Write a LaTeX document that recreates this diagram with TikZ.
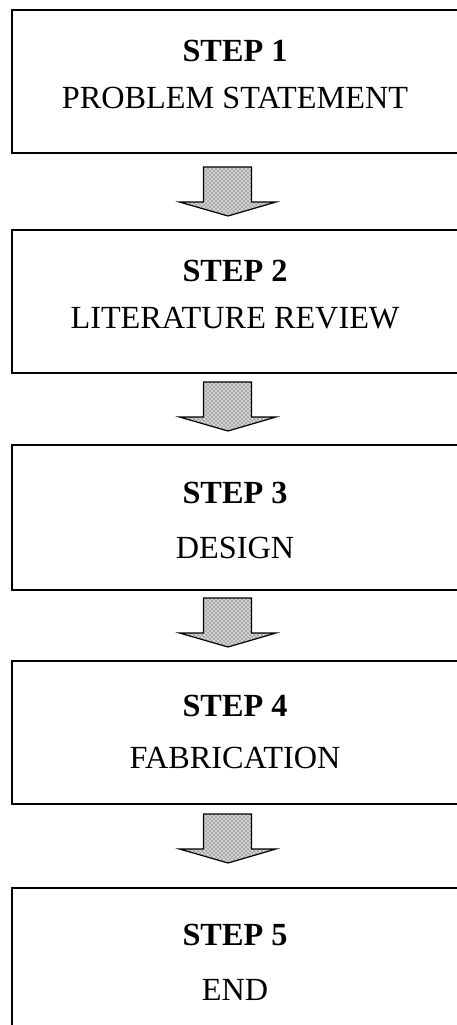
\documentclass[tikz,border=0pt]{standalone}
\usepackage{fontspec}
\setmainfont{Liberation Serif}
\usetikzlibrary{patterns}
\tikzset{
  stepbox/.style={draw=black, line width=1.4pt, fill=none},
  steptitle/.style={anchor=base, inner sep=0pt, font=\fontsize{24.2}{29}\selectfont\bfseries},
  steptext/.style={anchor=base, inner sep=0pt, font=\fontsize{24.2}{29}\selectfont},
  blockarrow/.style={draw=black, line width=0.9pt, line join=miter,
    preaction={fill=black!18}, pattern=crosshatch dots, pattern color=black!80}
}
\begin{document}
\begin{tikzpicture}[x=0.75pt, y=-0.75pt]
\useasboundingbox (0,0) rectangle (457,1025);
% boxes
\draw[stepbox] (12,10) rectangle (460,153);
\node[inner sep=0pt] (b1) at (236,81.5) {};
\draw[stepbox] (12,230) rectangle (460,373);
\node[inner sep=0pt] (b2) at (236,301.5) {};
\draw[stepbox] (12,445) rectangle (460,590);
\node[inner sep=0pt] (b3) at (236,517.5) {};
\draw[stepbox] (12,661) rectangle (460,804);
\node[inner sep=0pt] (b4) at (236,732.5) {};
\draw[stepbox] (12,888) rectangle (460,1045);
\node[inner sep=0pt] (b5) at (236,960) {};
% texts
\node[steptitle] (t1) at (235,61.7) {STEP 1};
\node[steptext]  (s1) at (235,108.3) {PROBLEM STATEMENT};
\node[steptitle] (t2) at (235,281.7) {STEP 2};
\node[steptext]  (s2) at (235,328.3) {LITERATURE REVIEW};
\node[steptitle] (t3) at (235,503.3) {STEP 3};
\node[steptext]  (s3) at (235,558.3) {DESIGN};
\node[steptitle] (t4) at (235,716.7) {STEP 4};
\node[steptext]  (s4) at (235,768.3) {FABRICATION};
\node[steptitle] (t5) at (235,945) {STEP 5};
\node[steptext]  (s5) at (235,1000) {END};
% block arrows
\foreach \y in {167,382,598,814}{
  \draw[blockarrow] (203.5,\y) -- (251.5,\y) -- (251.5,\y+35) -- (276,\y+35)
    -- (228,\y+49) -- (179.5,\y+35) -- (203.5,\y+35) -- cycle;
}
\end{tikzpicture}
\end{document}
